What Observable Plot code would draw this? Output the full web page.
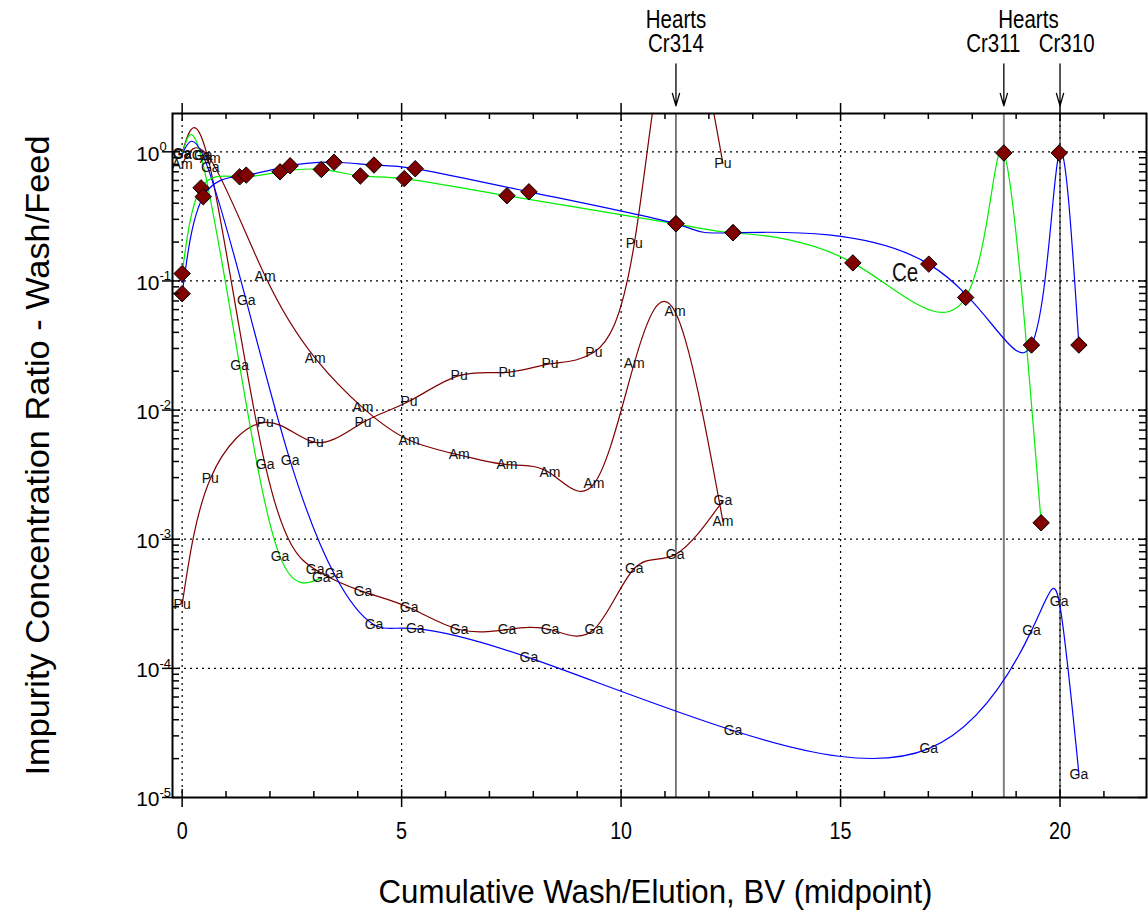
<!DOCTYPE html>
<html><head><meta charset="utf-8">
<script src="https://cdn.jsdelivr.net/npm/d3@7"></script>
<script src="https://cdn.jsdelivr.net/npm/@observablehq/plot@0.6"></script>
<style>
body{margin:0;background:#fff;}
#chart svg{display:block;}
</style></head><body><div id="chart"></div>
<script>
// ---- Run Cr314 (brown): Ga, Am, Pu ----
const brownX  = [0, 0.64, 1.89, 3.03, 4.12, 5.17, 6.31, 7.40, 8.38, 9.38, 10.30, 11.23, 12.32];
const brownGa = [0.97, 0.75, 0.00378, 0.000582, 0.000393, 0.000296, 0.0002, 0.0002, 0.0002, 0.0002, 0.000593, 0.00076, 0.00199];
const brownAm = [0.80, 0.88, 0.109, 0.0253, 0.0104, 0.00586, 0.00449, 0.00378, 0.00326, 0.00268, 0.0231, 0.0578, 0.00137];
const brownPu = [0.000312, 0.00293, 0.00803, 0.00562, 0.00803, 0.0117, 0.0185, 0.0196, 0.0228, 0.028, 0.194, 15, 0.81];

// ---- Run Cr311 (green): Ce, Ga ----
const greenCeX = [0, 0.43, 1.31, 2.23, 3.17, 4.06, 5.06, 7.40, 11.25, 12.55, 15.28, 17.85, 18.72, 19.57];
const greenCe  = [0.114, 0.526, 0.64, 0.70, 0.73, 0.65, 0.62, 0.457, 0.277, 0.236, 0.138, 0.0745, 0.98, 0.00134];
const greenGaX = [0, 0.43, 1.31, 2.23, 3.17];
const greenGa  = [0.95, 0.93, 0.0221, 0.000733, 0.000504];

// ---- Run Cr310 (blue): Ce, Ga ----
const blueCeX = [0, 0.48, 1.46, 2.46, 3.46, 4.37, 5.31, 7.90, 11.25, 12.55, 17.01, 19.35, 19.98, 20.43];
const blueCe  = [0.0796, 0.449, 0.66, 0.78, 0.83, 0.79, 0.74, 0.49, 0.277, 0.236, 0.135, 0.0319, 0.98, 0.0319];
const blueGaX = [0, 0.48, 1.46, 2.46, 3.46, 4.37, 5.31, 7.90, 12.55, 17.01, 19.35, 19.98, 20.43];
const blueGa  = [0.95, 0.93, 0.0703, 0.00406, 0.000542, 0.000218, 0.000203, 0.000121, 3.30e-5, 2.39e-5, 1.96e-4, 3.29e-4, 1.52e-5];

// ---- Axes / annotations ----
const xMajor = [0, 5, 10, 15, 20];
const xMinor = [1, 2, 3, 4, 6, 7, 8, 9, 11, 12, 13, 14, 16, 17, 18, 19, 21];
const yExp = [-5, -4, -3, -2, -1, 0];
const yMajor = yExp.map(e => Math.pow(10, e));
const yMinor = yExp.flatMap(e => [2,3,4,5,6,7,8,9].map(k => k * Math.pow(10, e))).filter(v => v < 1.98);
const cutLines = [{x: 11.25, color: "black", w: 1}, {x: 18.72, color: "#808080", w: 2}, {x: 20, color: "black", w: 1}];
const hearts = [{x: 11.25}, {x: 18.72}, {x: 20}];
const heartsTop = [{x: 11.25, text: "Hearts"}, {x: 19.28, text: "Hearts"}];
const heartsRun = [{x: 11.25, text: "Cr314"}, {x: 18.48, text: "Cr311"}, {x: 20.15, text: "Cr310"}];
const ceNote = [{x: 16.47, y: 0.116, text: "Ce"}];
const xTitle = "Cumulative Wash/Elution, BV (midpoint)";
const yTitle = "Impurity Concentration Ratio - Wash/Feed";

const rows = (xs, ys, el) => xs.map((x, i) => ({x, y: ys[i], el}));
const brownGaD = rows(brownX, brownGa, "Ga");
const brownAmD = rows(brownX, brownAm, "Am");
const brownPuD = rows(brownX, brownPu, "Pu");
const greenGaD = rows(greenGaX, greenGa, "Ga");
const blueGaD = rows(blueGaX, blueGa, "Ga");
const greenCeD = rows(greenCeX, greenCe, "Ce");
const blueCeD = rows(blueCeX, blueCe, "Ce");
const labelD = [...brownGaD, ...brownAmD, ...brownPuD, ...greenGaD, ...blueGaD];

const BROWN = "#800000", GREEN = "#00ee00", BLUE = "#0000ff";
const SANS = "'Liberation Sans', Arial, sans-serif";

const W = 1148, H = 919, mL = 172, mR = 2, mT = 113, mB = 122;
const FW = W - mL - mR, FH = H - mT - mB;

const lineOpts = (stroke) => ({x: "x", y: "y", stroke, strokeWidth: 1.2, curve: "natural", clip: true});

const chart = Plot.plot({
  width: W, height: H,
  marginLeft: mL, marginRight: mR, marginTop: mT, marginBottom: mB,
  x: {domain: [-0.22, 21.97], axis: null},
  y: {type: "log", domain: [1e-5, 1.98], axis: null},
  style: {fontFamily: SANS, background: "white", overflow: "visible"},
  marks: [
    // dotted grid
    Plot.ruleX(xMajor, {x: d => d, stroke: "black", strokeWidth: 1.2, strokeDasharray: "2,4"}),
    Plot.ruleY(yMajor.filter(v => v > 1e-5), {y: d => d, stroke: "black", strokeWidth: 1.2, strokeDasharray: "2,4"}),
    // cut lines
    Plot.ruleX(cutLines, {x: "x", stroke: d => d.color, strokeWidth: d => d.w}),
    // curves
    Plot.line(brownGaD, lineOpts(BROWN)),
    Plot.line(brownAmD, lineOpts(BROWN)),
    Plot.line(brownPuD, lineOpts(BROWN)),
    Plot.line(greenGaD, lineOpts(GREEN)),
    Plot.line(blueGaD, lineOpts(BLUE)),
    Plot.line(greenCeD, lineOpts(GREEN)),
    Plot.line(blueCeD, lineOpts(BLUE)),
    // element labels as markers
    Plot.text(labelD.filter(d => d.y < 1.98), {x: "x", y: "y", text: "el", fontSize: 14, fill: "#111"}),
    // Ce diamonds
    Plot.dot([...greenCeD, ...blueCeD], {x: "x", y: "y", symbol: "diamond2", r: 7.4, fill: "#800000", stroke: "black", strokeWidth: 1}),
    Plot.text(ceNote, {x: "x", y: "y", text: "text", fontSize: 25, fill: "#111", className: "narrow"}),
    // frame
    Plot.frame({stroke: "black", strokeWidth: 2}),
    // x ticks
    Plot.tickX(xMinor, {x: d => d, insetTop: FH - 6, strokeWidth: 1.5}),
    Plot.tickX(xMinor, {x: d => d, insetBottom: FH - 6, strokeWidth: 1.5}),
    Plot.tickX(xMajor, {x: d => d, insetTop: FH - 8, insetBottom: -10, strokeWidth: 1.5}),
    Plot.tickX(xMajor, {x: d => d, insetBottom: FH - 8, insetTop: -10, strokeWidth: 1.5}),
    // y ticks
    Plot.tickY(yMinor, {y: d => d, insetRight: FW - 7, strokeWidth: 1.5}),
    Plot.tickY(yMinor, {y: d => d, insetLeft: FW - 7, strokeWidth: 1.5}),
    Plot.tickY(yMajor, {y: d => d, insetRight: FW - 8, insetLeft: -10, strokeWidth: 1.5}),
    Plot.tickY(yMajor, {y: d => d, insetLeft: FW - 8, strokeWidth: 1.5}),
    // tick labels
    Plot.text(xMajor, {x: d => d, frameAnchor: "bottom", lineAnchor: "middle", textAnchor: "middle", dy: 34, text: d => String(d), fontSize: 24, fill: "black", className: "narrow"}),
    Plot.text(yMajor, {y: d => d, frameAnchor: "left", lineAnchor: "middle", dx: -13, dy: 2, textAnchor: "end", text: () => "10", fontSize: 21, fill: "black"}),
    Plot.text(yMajor, {y: d => d, frameAnchor: "left", lineAnchor: "middle", dx: -13, dy: -5, textAnchor: "start", text: d => String(Math.round(Math.log10(d))), fontSize: 13, fill: "black"}),
    // axis titles
    Plot.text([xTitle], {text: d => d, frameAnchor: "bottom", lineAnchor: "middle", textAnchor: "middle", dx: -4, dy: 95, fontSize: 33, fill: "black", className: "xtitle"}),
    Plot.text([yTitle], {text: d => d, frameAnchor: "left", lineAnchor: "middle", textAnchor: "middle", dx: -134, rotate: -90, fontSize: 33, fill: "black", className: "ytitle"}),
    // cut arrows and labels
    Plot.arrow(hearts, {x: "x", y1: 4.8, y2: 2.27, stroke: "black", strokeWidth: 1.3, headAngle: 32, headLength: 15}),
    Plot.text(heartsTop, {x: "x", text: "text", frameAnchor: "top", lineAnchor: "middle", textAnchor: "middle", dy: -94, fontSize: 25, fill: "black", className: "narrow"}),
    Plot.text(heartsRun, {x: "x", text: "text", frameAnchor: "top", lineAnchor: "middle", textAnchor: "middle", dy: -70, fontSize: 25, fill: "black", className: "narrow"})
  ]
});
document.getElementById("chart").appendChild(chart);

// emulate a condensed (Arial Narrow-like) face by compressing glyphs horizontally
d3.select(chart).selectAll("g.narrow text").each(function() {
  const L = this.getComputedTextLength();
  this.setAttribute("textLength", (L * 0.82).toFixed(1));
  this.setAttribute("lengthAdjust", "spacingAndGlyphs");
});
d3.select(chart).selectAll("g.xtitle text").attr("textLength", 554).attr("lengthAdjust", "spacingAndGlyphs");
d3.select(chart).selectAll("g.ytitle text").attr("textLength", 640).attr("lengthAdjust", "spacingAndGlyphs");
</script>
</body></html>
